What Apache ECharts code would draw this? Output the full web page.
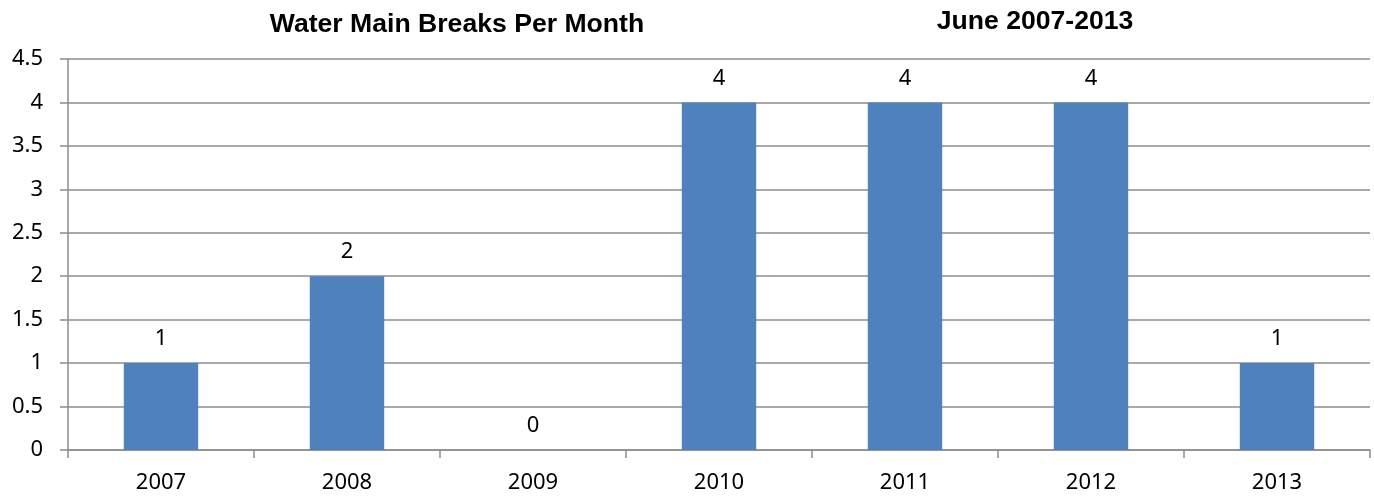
<!DOCTYPE html>
<html>
<head>
<meta charset="utf-8">
<script src="https://cdn.jsdelivr.net/npm/echarts@6/dist/echarts.min.js"></script>
<style>
  html, body { margin: 0; padding: 0; background: #fff; }
  #chart { width: 1374px; height: 497px; }
</style>
</head>
<body>
<div id="chart"></div>
<script>
// Water main breaks recorded each June, 2007-2013
const years = ['2007', '2008', '2009', '2010', '2011', '2012', '2013'];
const breaks = [1, 2, 0, 4, 4, 4, 1];
const yTicks = { min: 0, max: 4.5, step: 0.5 };

const gridColor = '#8c8c8c';
const labelFont = "'Noto Sans', 'Open Sans', sans-serif";
const titleFont = "'Liberation Sans', Arial, sans-serif";

const chart = echarts.init(document.getElementById('chart'), null, { renderer: 'canvas' });
chart.setOption({
  animation: false,
  backgroundColor: '#ffffff',
  title: [
    {
      text: 'Water Main Breaks Per Month',
      left: 452, top: 6, textAlign: 'center',
      textStyle: { fontFamily: titleFont, fontWeight: 'bold', fontSize: 26.6, color: '#000' }
    },
    {
      text: 'June 2007-2013',
      left: 1030, top: 3, textAlign: 'center',
      textStyle: { fontFamily: titleFont, fontWeight: 'bold', fontSize: 26.6, color: '#000' }
    }
  ],
  grid: { left: 68, right: 4, top: 59, bottom: 47, containLabel: false },
  xAxis: {
    type: 'category',
    data: years,
    boundaryGap: true,
    axisLine: { lineStyle: { color: gridColor, width: 1.5 } },
    axisTick: { show: true, length: 8, lineStyle: { color: gridColor, width: 1.5 } },
    axisLabel: { color: '#000', fontFamily: labelFont, fontSize: 22, margin: 22 }
  },
  yAxis: {
    type: 'value',
    min: yTicks.min, max: yTicks.max, interval: yTicks.step,
    axisLine: { show: true, lineStyle: { color: gridColor, width: 1.5 } },
    axisTick: { show: true, length: 8, lineStyle: { color: gridColor, width: 1.5 } },
    splitLine: { show: true, lineStyle: { color: gridColor, width: 1.5 } },
    axisLabel: { color: '#000', fontFamily: labelFont, fontSize: 22, margin: 25 }
  },
  series: [{
    type: 'bar',
    data: breaks,
    barWidth: '40%',
    itemStyle: { color: '#4f81bd' },
    label: {
      show: true, position: 'top', distance: 13,
      color: '#000', fontFamily: labelFont, fontSize: 22
    }
  }]
});
</script>
</body>
</html>
